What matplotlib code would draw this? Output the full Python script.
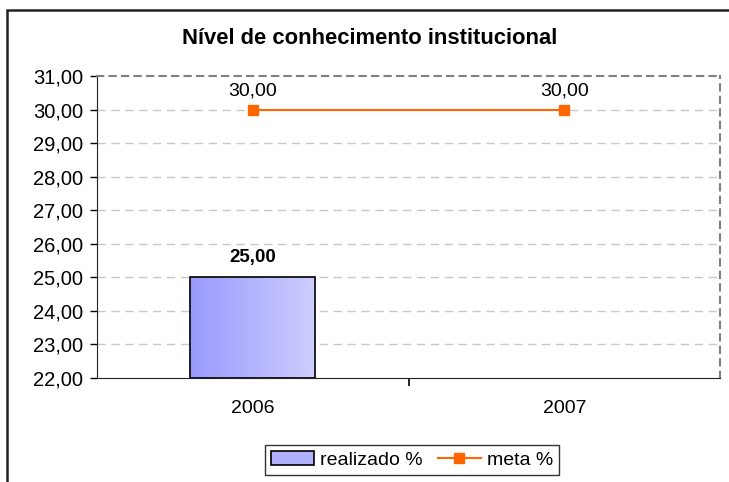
import matplotlib
matplotlib.use('Agg')
import matplotlib.pyplot as plt
import matplotlib.patches as mpatches
from matplotlib.lines import Line2D
import numpy as np

plt.rcParams['font.family'] = ['Liberation Sans', 'DejaVu Sans']

# data
anos = ['2006', '2007']
realizado = [25.00, None]
meta = [30.00, 30.00]
y_ticks = [22, 23, 24, 25, 26, 27, 28, 29, 30, 31]

def fmt(v):
    return f'{v:.2f}'.replace('.', ',')

fig = plt.figure(figsize=(7.29, 4.82), dpi=100)

# outer chart frame
frame = mpatches.Rectangle((7 / 729, -0.1), 1.2, 1 - 10 / 482 + 0.1,
                           transform=fig.transFigure, fill=False,
                           edgecolor='#222222', linewidth=1.8)
fig.patches.append(frame)

ax = fig.add_axes([97 / 729, 1 - 378 / 482, (720 - 97) / 729, (378 - 76) / 482])
x = np.arange(len(anos))

# grid
for yv in y_ticks[1:-1]:
    ax.axhline(yv, color='#c8c8c8', linestyle=(0, (6, 4)), linewidth=1, zorder=0)

# gradient bars
grad = np.linspace(0, 1, 256).reshape(1, -1)
cmap = matplotlib.colors.LinearSegmentedColormap.from_list('g', ['#9a9aff', '#cdcdfd'])
bar_w = 0.4
for xi, v in zip(x, realizado):
    if v is None:
        continue
    rect = mpatches.Rectangle((xi - bar_w / 2, y_ticks[0]), bar_w, v - y_ticks[0],
                              facecolor='none', edgecolor='black', linewidth=1.2, zorder=3)
    ax.add_patch(rect)
    im = ax.imshow(grad, extent=(xi - bar_w / 2, xi + bar_w / 2, y_ticks[0], v),
                   aspect='auto', cmap=cmap, zorder=2)
    im.set_clip_path(rect)
    ax.text(xi, v + 0.35, fmt(v), ha='center', va='bottom', fontsize=13.5,
            fontweight='bold')

ax.plot(x, meta, color='#ff6600', linewidth=1.5, marker='s', markersize=7,
        zorder=4)
for xi, v in zip(x, meta):
    ax.text(xi, v + 0.3, fmt(v), ha='center', va='bottom', fontsize=14)

ax.set_aspect('auto')
ax.set_xlim(-0.5, len(anos) - 0.5)
ax.set_ylim(y_ticks[0], y_ticks[-1])

ax.set_yticks(y_ticks)
ax.set_yticklabels([fmt(v) for v in y_ticks], fontsize=14.5)
ax.set_xticks(x)
ax.set_xticklabels(anos, fontsize=14)
ax.tick_params(axis='x', which='major', length=0, pad=16)
ax.set_xticks([0.5], minor=True)
ax.tick_params(axis='x', which='minor', length=6, width=1.2)
ax.tick_params(axis='y', length=5, width=1, pad=5)

ax.spines['left'].set_color('#222222')
ax.spines['bottom'].set_color('#222222')
for s in ['top', 'right']:
    ax.spines[s].set_linestyle((0, (3, 3)))
    ax.spines[s].set_color('#808080')
    ax.spines[s].set_linewidth(1.5)

fig.text(370 / 729, 1 - 38 / 482, 'Nível de conhecimento institucional',
         ha='center', va='center', fontsize=15.8, fontweight='bold')

handles = [mpatches.Patch(facecolor='#b0b0fe', edgecolor='black', linewidth=1.2),
           Line2D([], [], color='#ff6600', marker='s', markersize=7, linewidth=1.5)]
leg = fig.legend(handles, ['realizado %', 'meta %'], loc='center',
                 bbox_to_anchor=(412 / 729, 1 - 460 / 482), ncol=2, fontsize=14,
                 frameon=True, fancybox=False, edgecolor='black', handlelength=2.2,
                 handletextpad=0.3, columnspacing=0.8, borderpad=0.3)
leg.get_frame().set_linewidth(1.0)

fig.savefig('out.png', dpi=100)
